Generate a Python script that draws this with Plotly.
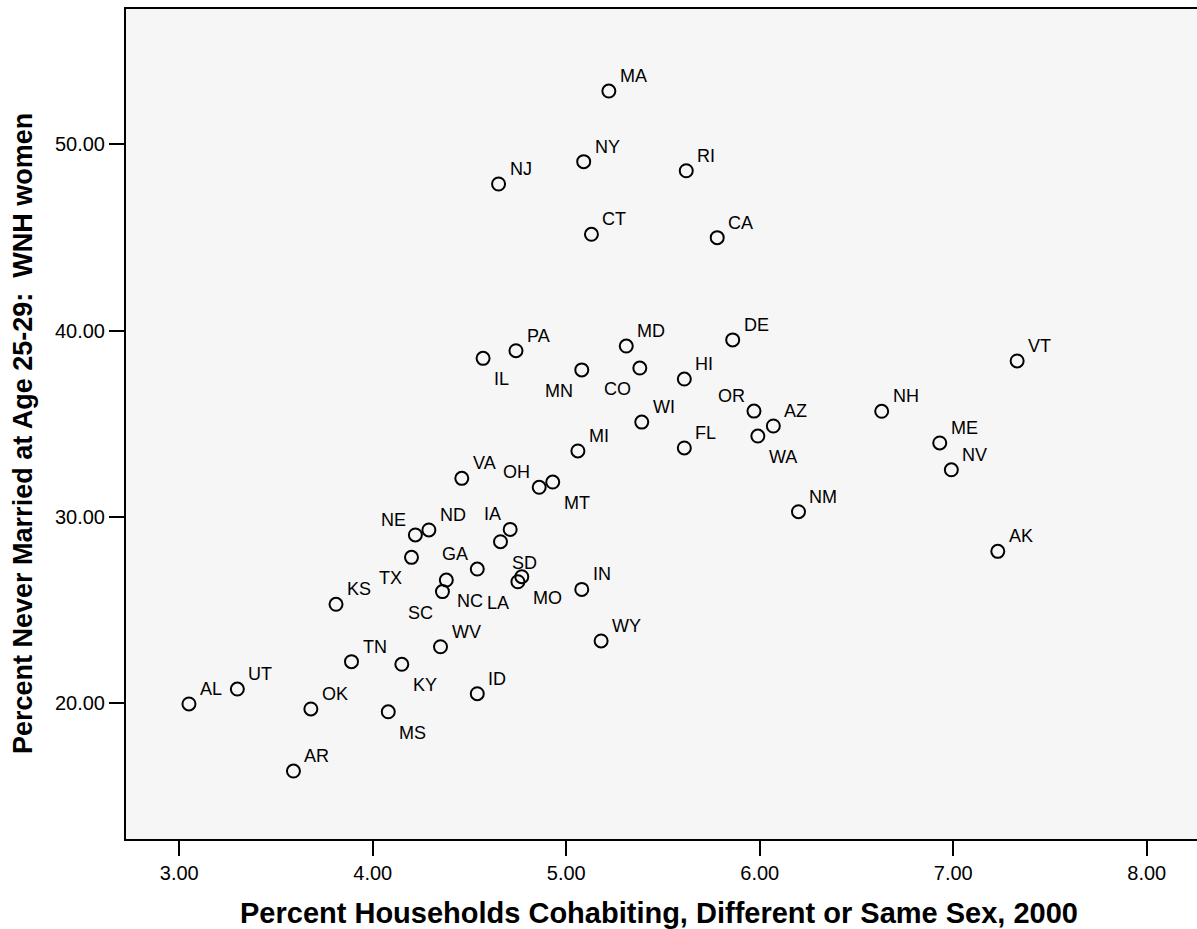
import plotly.graph_objects as go

# State abbreviations and their values
states = ["MA", "NY", "NJ", "RI", "CT", "CA", "PA", "IL", "MN", "MD",
          "CO", "DE", "HI", "OR", "AZ", "WA", "WI", "MI", "FL", "VA",
          "OH", "MT", "VT", "NH", "ME", "NV", "NM", "AK", "NE", "ND",
          "IA", "SD", "GA", "TX", "KS", "NC", "SC", "LA", "MO", "WV",
          "TN", "KY", "ID", "AL", "UT", "OK", "MS", "AR", "IN", "WY"]

# Percent households cohabiting, different or same sex, 2000
cohabiting = [5.22, 5.09, 4.65, 5.62, 5.13, 5.78, 4.74, 4.57, 5.08, 5.31,
              5.38, 5.86, 5.61, 5.97, 6.07, 5.99, 5.39, 5.06, 5.61, 4.46,
              4.86, 4.93, 7.33, 6.63, 6.93, 6.99, 6.20, 7.23, 4.22, 4.29,
              4.71, 4.66, 4.54, 4.20, 3.81, 4.38, 4.36, 4.75, 4.77, 4.35,
              3.89, 4.15, 4.54, 3.05, 3.30, 3.68, 4.08, 3.59, 5.08, 5.18]

# Percent never married at age 25-29, WNH women
never_married = [52.86, 49.07, 47.87, 48.58, 45.17, 44.99, 38.92, 38.51, 37.89, 39.17,
                 37.99, 39.50, 37.40, 35.68, 34.88, 34.34, 35.09, 33.54, 33.70, 32.07,
                 31.59, 31.87, 38.37, 35.67, 33.97, 32.53, 30.28, 28.15, 29.03, 29.30,
                 29.33, 28.67, 27.20, 27.83, 25.31, 26.61, 25.99, 26.52, 26.79, 23.03,
                 22.23, 22.09, 20.51, 19.96, 20.76, 19.69, 19.54, 16.36, 26.11, 23.34]

x_ticks = [3, 4, 5, 6, 7, 8]
y_ticks = [20, 30, 40, 50]

# Which corner each point label sits in (t/b = top/bottom, l/r = left/right)
label_side = {
    "MA": "tr", "NY": "tr", "NJ": "tr", "RI": "tr", "CT": "tr", "CA": "tr",
    "PA": "tr", "IL": "br", "MN": "bl", "MD": "tr", "CO": "bl", "DE": "tr",
    "HI": "tr", "OR": "tl", "AZ": "tr", "WA": "br", "WI": "tr", "MI": "tr",
    "FL": "tr", "VA": "tr", "OH": "tl", "MT": "br", "VT": "tr", "NH": "tr",
    "ME": "tr", "NV": "tr", "NM": "tr", "AK": "tr", "NE": "tl", "ND": "tr",
    "IA": "tl", "SD": "br", "GA": "tl", "TX": "bl", "KS": "tr", "NC": "br",
    "SC": "bl", "LA": "bl", "MO": "br", "WV": "tr", "TN": "tr", "KY": "br",
    "ID": "tr", "AL": "tr", "UT": "tr", "OK": "tr", "MS": "br", "AR": "tr",
    "IN": "tr", "WY": "tr",
}

FONT = "Liberation Sans, Arial, sans-serif"

fig = go.Figure()
fig.add_trace(go.Scatter(
    x=cohabiting, y=never_married, mode="markers",
    marker=dict(symbol="circle-open", size=13, color="black",
                line=dict(width=2, color="black")),
    hovertext=states, showlegend=False,
))

annotations = []
for s, xv, yv in zip(states, cohabiting, never_married):
    side = label_side[s]
    right = side[1] == "r"
    top = side[0] == "t"
    annotations.append(dict(
        x=xv, y=yv, xref="x", yref="y", text=s, showarrow=False,
        xanchor="left" if right else "right", yanchor="middle",
        xshift=10 if right else -8, yshift=15 if top else -21,
        borderpad=0, font=dict(family=FONT, size=18, color="black"),
    ))

# Axis titles
annotations.append(dict(
    x=0.5, y=0, xref="paper", yref="paper", yanchor="middle", xshift=-3, yshift=-74,
    text="<b>Percent Households Cohabiting, Different or Same Sex, 2000</b>",
    showarrow=False, font=dict(family=FONT, size=29, color="black"),
))
annotations.append(dict(
    x=0, y=0.5, xref="paper", yref="paper", xanchor="center", yanchor="middle",
    xshift=-103, yshift=-10, textangle=-90,
    text="<b>Percent Never Married at Age 25-29:\u00a0 WNH women</b>",
    showarrow=False, font=dict(family=FONT, size=27, color="black"),
))

fig.update_layout(
    width=1197, height=929,
    margin=dict(l=126, r=0, t=9, b=90, pad=0),
    paper_bgcolor="white", plot_bgcolor="#F6F6F6",
    annotations=annotations,
    font=dict(family=FONT, color="black"),
)
fig.update_xaxes(
    range=[2.7246, 8.2595], tickvals=x_ticks,
    ticktext=[f"{v:.2f}" for v in x_ticks],
    showgrid=False, zeroline=False,
    showline=True, linecolor="black", linewidth=2, mirror=True,
    ticks="outside", ticklen=15, tickwidth=2, tickcolor="black",
    tickfont=dict(family=FONT, size=20, color="black"),
)
fig.update_yaxes(
    range=[12.711, 57.263], tickvals=y_ticks,
    ticktext=[f"{v:.2f}" for v in y_ticks],
    showgrid=False, zeroline=False,
    showline=True, linecolor="black", linewidth=2, mirror=False,
    ticks="outside", ticklen=15, tickwidth=2, tickcolor="black",
    tickfont=dict(family=FONT, size=20, color="black"),
)

fig.write_html("out.html")
